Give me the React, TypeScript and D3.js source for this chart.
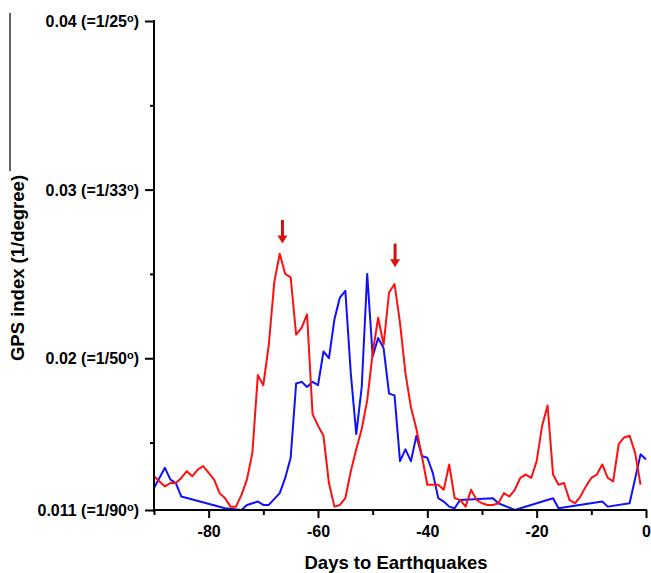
import React, { useRef, useEffect } from "react";
import * as d3 from "d3";

// days before the quake and GPS index values
const redDays = [-90, -88, -87, -86, -85, -84, -83, -82, -81, -80, -79, -78, -77, -76, -75, -74, -73, -72, -71, -70,
  -69, -68, -67, -66, -65, -64, -63, -62, -61, -60, -59, -58, -57, -56, -55, -54, -53, -52, -51, -50,
  -49, -48, -47, -46, -45, -44, -43, -42, -41, -40, -39, -38, -37, -36, -35, -34, -33, -32, -31, -30,
  -29, -28, -27, -26, -25, -24, -23, -22, -21, -20, -19, -18, -17, -16, -15, -14, -13, -12, -11, -10,
  -9, -8, -7, -6, -5, -4, -3, -2, -1];
const redValues = [0.0130, 0.0124, 0.0126, 0.0126, 0.0129, 0.0133, 0.0130, 0.0134, 0.0136, 0.0132, 0.0128, 0.0120, 0.0117, 0.0112, 0.0112, 0.0119, 0.0128, 0.0144, 0.0190, 0.0184,
  0.0208, 0.0245, 0.0262, 0.0250, 0.0248, 0.0214, 0.0218, 0.0226, 0.0167, 0.0160, 0.0154, 0.0126, 0.0112, 0.0113, 0.0117, 0.0133, 0.0146, 0.0158, 0.0175, 0.0203,
  0.0224, 0.0208, 0.0239, 0.0244, 0.0221, 0.0191, 0.0171, 0.0158, 0.0142, 0.0125, 0.0125, 0.0125, 0.0122, 0.0137, 0.0117, 0.0116, 0.0112, 0.0122, 0.0116, 0.0114,
  0.0113, 0.0113, 0.0114, 0.0120, 0.0118, 0.0122, 0.0129, 0.0131, 0.0129, 0.0139, 0.0160, 0.0172, 0.0131, 0.0125, 0.0126, 0.0116, 0.0114, 0.0118, 0.0124, 0.0129,
  0.0131, 0.0137, 0.0129, 0.0127, 0.0149, 0.0153, 0.0154, 0.0144, 0.0125];

const blueDays = [-90, -88, -87, -86, -85, -77, -74, -73, -71, -70, -69, -67, -66, -65, -64, -63, -62, -61, -60, -59,
  -58, -57, -56, -55, -54, -53, -52, -51, -50, -49, -48, -47, -46, -45, -44, -43, -42, -41, -40, -39,
  -38, -37, -36, -35, -34, -28, -27, -24, -17, -16, -8, -7, -3, -1, 0];
const blueValues = [0.0123, 0.0135, 0.0128, 0.0126, 0.0118, 0.0111, 0.0110, 0.0113, 0.0115, 0.0113, 0.0113, 0.0120, 0.0129, 0.0141, 0.0185, 0.0186, 0.0183, 0.0186, 0.0184, 0.0204,
  0.0200, 0.0223, 0.0236, 0.0240, 0.0191, 0.0155, 0.0183, 0.0250, 0.0201, 0.0212, 0.0206, 0.0179, 0.0178, 0.0139, 0.0146, 0.0139, 0.0154, 0.0142, 0.0141, 0.0132,
  0.0117, 0.0115, 0.0112, 0.0111, 0.0116, 0.0117, 0.0114, 0.0110, 0.0117, 0.0111, 0.0115, 0.0112, 0.0114, 0.0143, 0.0140];

const xMajorTicks = [-80, -60, -40, -20, 0];
const xMinorTicks = [-90, -70, -50, -30, -10];
const yMajorTicks = [0.011, 0.02, 0.03, 0.04];
const yTickDegrees = ["90", "50", "33", "25"];
const yMinorTicks = [0.015, 0.025, 0.035];

// arrows marking the two red peaks
const arrowDays = [-66.5, -45.9];
const arrowTops = [0.0282, 0.0268];
const arrowTips = [0.0268, 0.0254];

const font = "'Liberation Sans', Arial, Helvetica, sans-serif";

const App = () => {
  const plot = useRef(null);
  const width = 651;
  const height = 573;

  useEffect(() => {
    const svg = d3.select(plot.current);
    svg.selectAll("*").remove();

    const x = d3.scaleLinear().domain([-90, 0]).range([154, 646]);
    const y = d3.scaleLinear().domain([0.011, 0.04]).range([510, 21]);

    const line = d3.line()
      .x(d => x(d[0]))
      .y(d => y(d[1]))
      .curve(d3.curveLinear);

    // stray frame line at far left
    svg.append("line")
      .attr("x1", 10).attr("x2", 10)
      .attr("y1", 13).attr("y2", 171)
      .attr("stroke", "#000").attr("stroke-width", 1.2);

    // blue series
    svg.append("path")
      .attr("fill", "none")
      .attr("stroke", "#1010ff")
      .attr("stroke-width", 2)
      .attr("stroke-linejoin", "round")
      .attr("d", line(blueDays.map((d, i) => [d, blueValues[i]])));

    // red series
    svg.append("path")
      .attr("fill", "none")
      .attr("stroke", "#ff1010")
      .attr("stroke-width", 2)
      .attr("stroke-linejoin", "round")
      .attr("d", line(redDays.map((d, i) => [d, redValues[i]])));

    // x axis
    const xAxis = d3.axisBottom(x).tickValues(xMajorTicks).tickSize(8).tickSizeOuter(0).tickPadding(8)
      .tickFormat(d => `${d}`);
    const gx = svg.append("g")
      .attr("transform", "translate(0,510)")
      .call(xAxis)
      .call(g => g.select(".domain").remove());
    gx.selectAll(".tick line").attr("stroke-width", 2);
    gx.selectAll(".tick text")
      .attr("font-family", font).attr("font-size", 16).attr("font-weight", "bold").attr("fill", "#000");
    svg.append("g")
      .attr("transform", "translate(0,510)")
      .call(d3.axisBottom(x).tickValues(xMinorTicks).tickSize(5).tickSizeOuter(0).tickFormat(() => ""))
      .call(g => g.select(".domain").remove())
      .selectAll(".tick line").attr("stroke-width", 2);

    // y axis
    svg.append("g")
      .call(d3.axisLeft(y).tickValues(yMajorTicks).tickSize(9).tickSizeOuter(0).tickFormat(() => ""))
      .attr("transform", "translate(154,0)")
      .call(g => g.select(".domain").remove())
      .selectAll(".tick line").attr("stroke-width", 2);
    svg.append("g")
      .call(d3.axisLeft(y).tickValues(yMinorTicks).tickSize(4).tickSizeOuter(0).tickFormat(() => ""))
      .attr("transform", "translate(154,0)")
      .call(g => g.select(".domain").remove())
      .selectAll(".tick line").attr("stroke-width", 2);

    // axis lines
    svg.append("line")
      .attr("x1", 154).attr("x2", 154).attr("y1", y(0.04) - 1).attr("y2", 512)
      .attr("stroke", "#000").attr("stroke-width", 2);
    svg.append("line")
      .attr("x1", 153).attr("x2", x(0) + 1).attr("y1", 510).attr("y2", 510)
      .attr("stroke", "#000").attr("stroke-width", 2);

    // y tick labels with degree mark
    const yl = svg.append("g")
      .attr("font-family", font).attr("font-size", 16).attr("font-weight", "bold")
      .attr("text-anchor", "end");
    yMajorTicks.forEach((v, i) => {
      const t = yl.append("text")
        .attr("x", 139)
        .attr("y", y(v) + 6);
      t.append("tspan").text(`${v} (=1/${yTickDegrees[i]}`);
      t.append("tspan").attr("font-size", 11).attr("dy", -5).text("o");
      t.append("tspan").attr("dy", 5).text(")");
    });

    // arrows
    arrowDays.forEach((d, i) => {
      const ax = x(d);
      const top = y(arrowTops[i]);
      const tip = y(arrowTips[i]);
      svg.append("line")
        .attr("x1", ax).attr("x2", ax)
        .attr("y1", top).attr("y2", tip - 6)
        .attr("stroke", "#c81414").attr("stroke-width", 3);
      svg.append("path")
        .attr("d", `M${ax - 5},${tip - 8}L${ax + 5},${tip - 8}L${ax},${tip}Z`)
        .attr("fill", "#e01010");
    });

    // axis titles
    svg.append("text")
      .attr("x", 396).attr("y", 569)
      .attr("text-anchor", "middle")
      .attr("font-family", font).attr("font-size", 18.5).attr("font-weight", "bold")
      .text("Days to Earthquakes");
    svg.append("text")
      .attr("transform", "translate(24,268) rotate(-90)")
      .attr("text-anchor", "middle")
      .attr("font-family", font).attr("font-size", 18.5).attr("font-weight", "bold")
      .text("GPS index (1/degree)");
  });

  return (
    <svg ref={plot} width={width} height={height}
      style={{ position: "absolute", left: 0, top: 0, background: "#fff" }} />
  );
};

export default App;
